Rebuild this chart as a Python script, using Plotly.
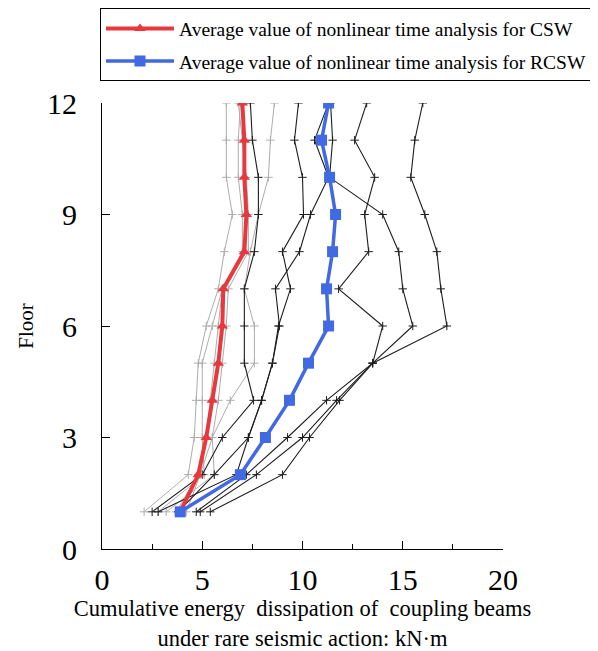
import plotly.graph_objects as go

# floors 1..12
floors = [1, 2, 3, 4, 5, 6, 7, 8, 9, 10, 11, 12]

# average values
csw_avg = [3.9, 4.8, 5.2, 5.5, 5.8, 6.0, 6.05, 7.1, 7.2, 7.1, 7.1, 7.0]
rcsw_avg = [3.9, 6.9, 8.15, 9.35, 10.3, 11.3, 11.2, 11.5, 11.65, 11.35, 10.95, 11.3]

# individual records, CSW (gray)
csw_runs = [
    [2.1, 4.3, 4.6, 4.7, 4.8, 5.2, 5.8, 6.1, 6.5, 6.2, 6.2, 6.2],
    [2.8, 5.1, 5.0, 5.0, 5.0, 5.5, 6.0, 7.0, 7.0, 6.8, 6.8, 6.9],
    [3.2, 5.6, 5.5, 6.4, 7.6, 7.6, 7.1, 7.4, 7.8, 8.3, 8.4, 8.6],
    [3.7, 4.8, 5.2, 5.4, 5.6, 5.8, 6.0, 7.1, 7.2, 7.1, 7.1, 7.0],
    [4.2, 4.9, 5.5, 5.8, 6.0, 6.2, 6.3, 7.3, 7.3, 7.2, 7.0, 6.8],
]

# individual records, RCSW (black)
rcsw_runs = [
    [5.4, 9.0, 10.35, 11.85, 13.5, 17.2, 16.9, 16.7, 16.1, 15.4, 15.6, 16.0],
    [4.7, 7.2, 9.25, 11.2, 13.5, 14.0, 11.8, 13.3, 13.1, 13.6, 12.6, 13.2],
    [4.9, 7.7, 10.0, 11.7, 13.5, 15.5, 15.0, 14.8, 14.0, 11.35, 11.5, 11.4],
    [2.8, 6.7, 7.3, 7.96, 8.5, 8.85, 8.65, 9.85, 10.4, 11.3, 10.6, 11.3],
    [3.8, 5.6, 7.3, 7.96, 8.5, 8.8, 9.4, 9.0, 10.05, 10.0, 9.6, 9.8],
    [2.5, 5.0, 6.0, 7.56, 7.1, 7.1, 7.1, 7.6, 7.8, 7.8, 7.5, 7.4],
]

fig = go.Figure()

for run in csw_runs:
    fig.add_trace(go.Scatter(
        x=run, y=floors, mode='lines+markers', showlegend=False,
        line=dict(color='#adadad', width=1),
        marker=dict(symbol='cross-thin', size=6, line=dict(color='#adadad', width=1))
    ))

for run in rcsw_runs:
    fig.add_trace(go.Scatter(
        x=run, y=floors, mode='lines+markers', showlegend=False,
        line=dict(color='#1e1e1e', width=1.1),
        marker=dict(symbol='cross-thin', size=6, line=dict(color='#1e1e1e', width=1))
    ))

fig.add_trace(go.Scatter(
    x=csw_avg, y=floors, mode='lines+markers', legendgroup='a',
    name='Average value of nonlinear time analysis for CSW',
    line=dict(color='#e8383d', width=4),
    marker=dict(symbol='triangle-up', size=10, color='#e8383d')
))
fig.add_trace(go.Scatter(
    x=rcsw_avg, y=floors, mode='lines+markers', legendgroup='b',
    name='Average value of nonlinear time analysis for RCSW',
    line=dict(color='#4169e1', width=3.5),
    marker=dict(symbol='square', size=11, color='#4169e1')
))

font = 'Liberation Serif, Times New Roman, serif'

# page body has an 8px margin, so the figure is drawn 8px smaller
fig.update_layout(
    width=590, height=643,
    margin=dict(l=94, r=95, t=95, b=102, autoexpand=False),
    plot_bgcolor='white', paper_bgcolor='white',
    font=dict(family=font, color='black'),
    legend=dict(
        x=-0.005, y=1.212, xanchor='left', yanchor='top',
        bordercolor='black', borderwidth=1,
        font=dict(size=19.5, family=font),
        itemwidth=68, tracegroupgap=4,
    ),
)

fig.update_xaxes(
    range=[0, 20], tickvals=[0, 5, 10, 15, 20],
    showline=True, linecolor='black', linewidth=1.2,
    showgrid=False, zeroline=False, automargin=False,
    ticks='inside', ticklen=8, tickcolor='black',
    minor=dict(ticks='inside', ticklen=5, dtick=2.5, tickcolor='black'),
    tickfont=dict(size=30, family=font), ticklabelstandoff=4,
    title=dict(text='Cumulative energy  dissipation of  coupling beams<br>under rare seismic action: kN·m',
               font=dict(size=22.5, family='Liberation Serif'), standoff=5),
)
fig.update_yaxes(
    range=[0, 12], tickvals=[0, 3, 6, 9, 12],
    showline=True, linecolor='black', linewidth=1.2,
    showgrid=False, zeroline=False, automargin=False,
    ticks='inside', ticklen=8, tickcolor='black',
    tickfont=dict(size=30, family=font), ticklabelstandoff=18,
    title=dict(text='Floor', font=dict(size=21, family='Liberation Serif'), standoff=7),
)

fig.write_html("out.html")
